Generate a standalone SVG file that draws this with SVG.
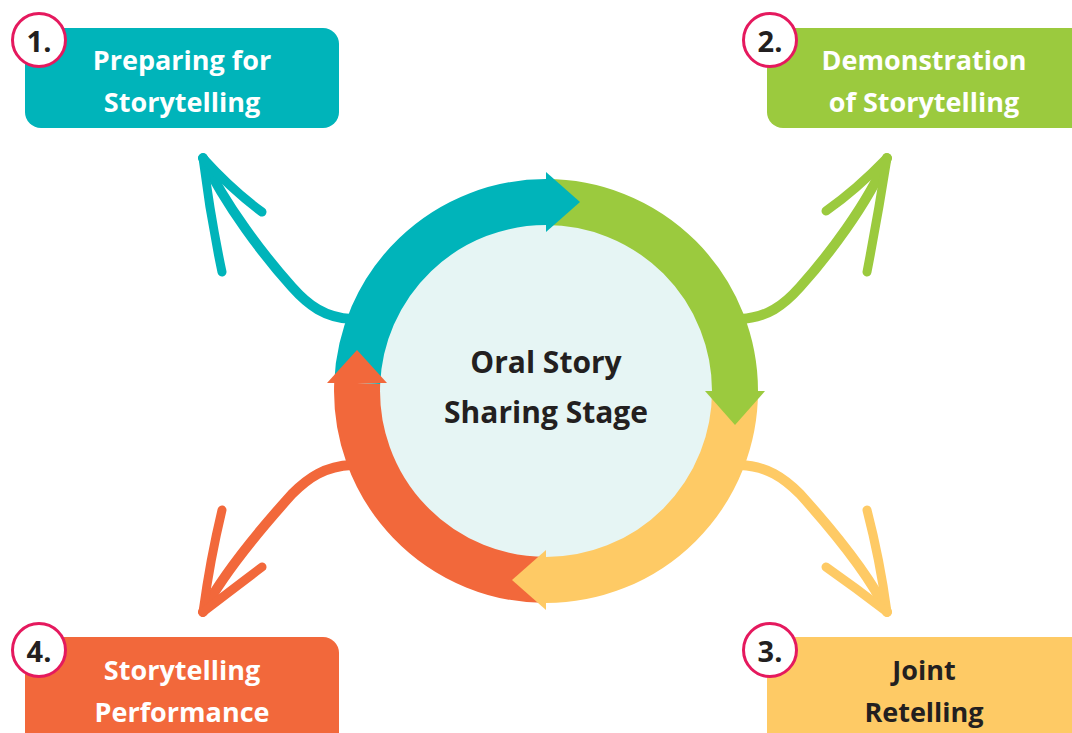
<svg xmlns="http://www.w3.org/2000/svg" width="1072" height="733" viewBox="0 0 1072 733">
<style>
.box-text{font-family:"Open Sans","Noto Sans",sans-serif;font-weight:700;font-size:27px;text-anchor:middle;fill:#ffffff}
.dark{fill:#231F20}
.num{font-family:"Open Sans","Noto Sans",sans-serif;font-weight:700;font-size:29px;text-anchor:middle;fill:#231F20}
.badge{fill:#ffffff;stroke:#E5195E;stroke-width:3}
.curve{fill:none;stroke-width:10;stroke-linecap:round;stroke-linejoin:round}
.barb{fill:none;stroke-width:9;stroke-linecap:round}
.ring{fill:none;stroke-width:46;stroke-linecap:butt}
.center-text{font-family:"Open Sans","Noto Sans",sans-serif;font-weight:700;font-size:30px;text-anchor:middle;fill:#231F20}
</style>
<rect width="1072" height="733" fill="#ffffff"/>

<g id="connectors">
  <g stroke="#00B4BA">
    <path class="curve" d="M352 319 C 325 318 308 305 292 287 C 265 257 225 205 203 158"/>
    <path class="barb" d="M203 158 Q 210 215 222 272"/>
    <path class="barb" d="M203 158 Q 232 190 262 212"/>
  </g>
  <g stroke="#9BCA3E">
    <path class="curve" d="M740 319 C 767 318 784 305 800 287 C 827 257 867 205 887 158"/>
    <path class="barb" d="M887 158 Q 878 215 867 272"/>
    <path class="barb" d="M887 158 Q 856 190 826 211"/>
  </g>
  <g stroke="#FECA65">
    <path class="curve" d="M740 465 C 767 466 784 478 800 494 C 827 524 867 570 887 612"/>
    <path class="barb" d="M887 612 Q 880 560 867 510"/>
    <path class="barb" d="M887 612 Q 856 588 826 567"/>
  </g>
  <g stroke="#F2683B">
    <path class="curve" d="M352 465 C 325 466 308 478 292 494 C 265 524 225 570 203 612"/>
    <path class="barb" d="M203 612 Q 210 560 222 510"/>
    <path class="barb" d="M203 612 Q 234 588 262 567"/>
  </g>
</g>

<g id="cycle">
  <circle cx="546" cy="391" r="167" fill="#E6F5F4"/>
  <path class="ring" stroke="#00B4BA" d="M357.2 383 A 189 189 0 0 1 546 202"/>
  <path class="ring" stroke="#9BCA3E" d="M546 202 A 189 189 0 0 1 735 391"/>
  <path class="ring" stroke="#FECA65" d="M735 391 A 189 189 0 0 1 546 580"/>
  <path class="ring" stroke="#F2683B" d="M546 580 A 189 189 0 0 1 357.2 383"/>
  <polygon fill="#00B4BA" points="546,172 546,232 580,202"/>
  <polygon fill="#9BCA3E" points="705,391 765,391 735,425"/>
  <polygon fill="#FECA65" points="546,550 546,610 512,580"/>
  <polygon fill="#F2683B" points="327,383 387,383 357,350"/>
  <text class="center-text" x="546" y="373">Oral Story</text>
  <text class="center-text" x="546" y="423">Sharing Stage</text>
</g>

<g id="node1">
  <rect x="25" y="28" width="314" height="100" rx="16" fill="#00B4BA"/>
  <text class="box-text" x="182" y="70">Preparing for</text>
  <text class="box-text" x="182" y="112">Storytelling</text>
  <circle class="badge" cx="39" cy="40" r="26.5"/>
  <text class="num" x="39" y="52">1.</text>
</g>

<g id="node2">
  <rect x="767" y="28" width="330" height="100" rx="16" fill="#9BCA3E"/>
  <text class="box-text" x="924" y="70">Demonstration</text>
  <text class="box-text" x="924" y="112">of Storytelling</text>
  <circle class="badge" cx="770" cy="40" r="26.5"/>
  <text class="num" x="770" y="52">2.</text>
</g>

<g id="node3">
  <rect x="767" y="637" width="330" height="120" rx="16" fill="#FECA65"/>
  <text class="box-text dark" x="924" y="680">Joint</text>
  <text class="box-text dark" x="924" y="722">Retelling</text>
  <circle class="badge" cx="770" cy="650" r="26.5"/>
  <text class="num" x="770" y="662">3.</text>
</g>

<g id="node4">
  <rect x="25" y="637" width="314" height="120" rx="16" fill="#F2683B"/>
  <text class="box-text" x="182" y="680">Storytelling</text>
  <text class="box-text" x="182" y="722">Performance</text>
  <circle class="badge" cx="39" cy="650" r="26.5"/>
  <text class="num" x="39" y="662">4.</text>
</g>
</svg>
